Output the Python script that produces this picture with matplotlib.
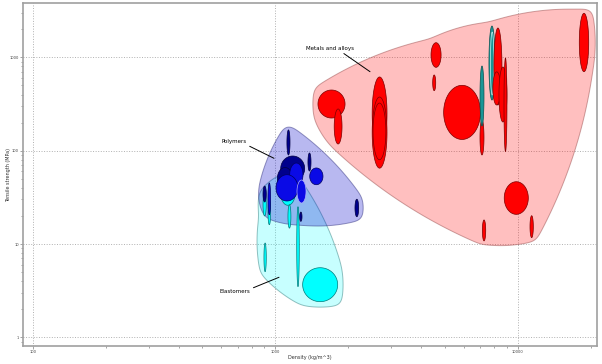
import numpy as np
import matplotlib.pyplot as plt

# material property ranges: density (kg/m^3) and tensile strength (MPa)
metal_d_lo = [1500, 1750, 2510, 2510, 2530, 4390, 4460, 4950, 6990, 6990, 7610, 7720, 7980, 7900, 8370, 8780, 17950, 8800, 7150, 11240]
metal_d_hi = [1940, 1885, 2890, 2890, 2860, 4830, 4590, 7020, 7260, 7260, 8060, 7980, 8610, 8500, 9030, 9030, 19630, 11060, 7380, 11600]
metal_s_lo = [224, 118, 102, 65, 80, 783, 440, 132, 90, 184, 349, 395, 309, 309, 203, 98, 703, 20.8, 10.8, 11.7]
metal_s_hi = [447, 280, 617, 376, 324, 1437, 648, 502, 213, 809, 2170, 1870, 2066, 700, 789, 985, 2970, 46.5, 18.1, 20.1]
metal_kind = ['red'] * 9 + ['teal', 'teal', 'teal_light'] + ['red'] * 8

poly_d_lo = [1053, 1117, 1364, 1020, 1147, 1007, 1229, 1387, 890, 933, 2132, 1261]
poly_d_hi = [1322, 1150, 1404, 1180, 1301, 1240, 1339, 1573, 918, 957, 2208, 1289]
poly_s_lo = [47.3, 90, 60.6, 38, 41.8, 28.9, 27.5, 43.2, 28.2, 20.6, 19.6, 17.5]
poly_s_hi = [87.7, 167, 94.5, 66, 73.8, 55.3, 48.5, 65.3, 41.8, 45.1, 30.2, 22]
poly_kind = ['navy', 'navy', 'navy', 'navy', 'blue', 'blue', 'blue_light', 'blue', 'navy', 'blue', 'navy', 'navy']

elast_d_lo = [1050, 890, 933, 1128, 1226, 898, 1297]
elast_d_hi = [1210, 918, 957, 1160, 1256, 918, 1809]
elast_s_lo = [26, 20, 16.1, 14.8, 3.49, 5.05, 2.41]
elast_s_hi = [50, 35, 30, 26.4, 25.1, 10.25, 5.57]

styles = {
    'red': ('#ff0000', '#7a0000'),
    'teal': ('#1a9696', '#0a5050'),
    'teal_light': ('#1a9696', '#c8f0f0'),
    'navy': ('#00008c', '#000040'),
    'blue': ('#0a0ae6', '#000060'),
    'blue_light': ('#0a0ae6', '#b0b0ff'),
    'cyan': ('#00ffff', '#007878'),
}

# label text position and pointer tip (density, strength)
labels = ['Metals and alloys', 'Polymers', 'Elastomers']
label_pos = [(1686, 1252), (679, 127), (684, 3.06)]
label_tip = [(2459, 703), (988, 82.9), (1036, 4.40)]
label_rel = [(0.7, 0), (0.88, 0), (0.95, 1)]

fig = plt.figure(figsize=(6.02, 3.64), dpi=100)
ax = fig.add_axes([22.7 / 602, (364 - 346) / 364, (597.3 - 22.7) / 602, (346 - 3.3) / 364])
ax.set_xscale('log')
ax.set_yscale('log')
ax.set_xlim(90.8, 21300)
ax.set_ylim(0.807, 3800)


def ellipse(dlo, dhi, slo, shi, n=90):
    cx, rx = (np.log10(dlo) + np.log10(dhi)) / 2, (np.log10(dhi) - np.log10(dlo)) / 2
    cy, ry = (np.log10(slo) + np.log10(shi)) / 2, (np.log10(shi) - np.log10(slo)) / 2
    t = np.linspace(0, 2 * np.pi, n)
    return 10 ** (cx + rx * np.cos(t)), 10 ** (cy + ry * np.sin(t))


def cross(o, a, b):
    return (a[0] - o[0]) * (b[1] - o[1]) - (a[1] - o[1]) * (b[0] - o[0])


def hull(pts):
    pts = [tuple(p) for p in np.unique(np.round(pts, 3), axis=0)]
    lower, upper = [], []
    for p in pts:
        while len(lower) >= 2 and cross(lower[-2], lower[-1], p) <= 0:
            lower.pop()
        lower.append(p)
    for p in reversed(pts):
        while len(upper) >= 2 and cross(upper[-2], upper[-1], p) <= 0:
            upper.pop()
        upper.append(p)
    return np.array(lower[:-1] + upper[:-1])


def smooth_closed(pts, sigma=5):
    closed = np.vstack([pts, pts[:1]])
    dist = np.r_[0, np.cumsum(np.hypot(*np.diff(closed, axis=0).T))]
    s = np.linspace(0, dist[-1], int(dist[-1]), endpoint=False)
    x = np.interp(s, dist, closed[:, 0])
    y = np.interp(s, dist, closed[:, 1])
    k = np.arange(-3 * sigma, 3 * sigma + 1)
    w = np.exp(-0.5 * (k / sigma) ** 2)
    w /= w.sum()
    m = 3 * sigma
    xs = np.convolve(np.r_[x[-m:], x, x[:m]], w, 'valid')
    ys = np.convolve(np.r_[y[-m:], y, y[:m]], w, 'valid')
    return np.c_[xs, ys]


def envelope(dlo, dhi, slo, shi, margin=4.0, bulge=0.045):
    corners = []
    for a, b, c, d in zip(dlo, dhi, slo, shi):
        corners += [(a, c), (a, d), (b, c), (b, d)]
    disp = ax.transData.transform(corners)
    ang = np.linspace(0, 2 * np.pi, 20, endpoint=False)
    ring = np.c_[np.cos(ang), np.sin(ang)] * margin
    pts = (disp[:, None, :] + ring[None, :, :]).reshape(-1, 2)
    h = hull(pts)
    out = []
    for i in range(len(h)):
        p, q = h[i], h[(i + 1) % len(h)]
        e = q - p
        L = np.hypot(*e)
        nrm = np.array([e[1], -e[0]]) / L
        t = np.linspace(0, 1, max(2, int(L / 2)), endpoint=False)
        out.append(p + t[:, None] * e + (4 * bulge * L * t * (1 - t))[:, None] * nrm)
    out = smooth_closed(np.vstack(out))
    return ax.transData.inverted().transform(out).T


# family envelopes
ex, ey = envelope(metal_d_lo, metal_d_hi, metal_s_lo, metal_s_hi)
ax.fill(ex, ey, facecolor=(1, 0, 0, 0.25), edgecolor=(0.6, 0.3, 0.3, 0.5), lw=0.7, zorder=2)
ex, ey = envelope(elast_d_lo, elast_d_hi, elast_s_lo, elast_s_hi)
ax.fill(ex, ey, facecolor=(0, 1, 1, 0.22), edgecolor=(0.2, 0.5, 0.5, 0.5), lw=0.7, zorder=2)
ex, ey = envelope(poly_d_lo, poly_d_hi, poly_s_lo, poly_s_hi)
ax.fill(ex, ey, facecolor=(0, 0, 0.8, 0.28), edgecolor=(0.2, 0.2, 0.5, 0.5), lw=0.7, zorder=2)

# material bubbles
groups = [
    (elast_d_lo, elast_d_hi, elast_s_lo, elast_s_hi, ['cyan'] * len(elast_d_lo)),
    (poly_d_lo, poly_d_hi, poly_s_lo, poly_s_hi, poly_kind),
    (metal_d_lo, metal_d_hi, metal_s_lo, metal_s_hi, metal_kind),
]
z = 3
for dlo, dhi, slo, shi, kinds in groups:
    for a, b, c, d, k in zip(dlo, dhi, slo, shi, kinds):
        x, y = ellipse(a, b, c, d)
        fc, ec = styles[k]
        ax.fill(x, y, facecolor=fc, edgecolor=ec, lw=0.5, zorder=z)
        z += 0.01

for text, pos, tip, rel in zip(labels, label_pos, label_tip, label_rel):
    ax.annotate(text, xy=tip, xytext=pos, fontsize=4, ha='center', va='center', zorder=10,
                arrowprops=dict(arrowstyle='-', color='black', lw=0.7, shrinkA=0, shrinkB=0, relpos=rel))

ax.set_xticks([100, 1000, 10000])
ax.set_xticklabels(['100', '1000', '10000'])
ax.set_yticks([1, 10, 100, 1000])
ax.set_yticklabels(['1', '10', '100', '1000'])
ax.xaxis.set_minor_formatter(plt.NullFormatter())
ax.yaxis.set_minor_formatter(plt.NullFormatter())
ax.tick_params(which='both', labelsize=2.6, labelcolor='#404040', color='#808080', width=0.5, pad=0.8)
ax.tick_params(which='major', length=2)
ax.tick_params(which='minor', length=1.5)
ax.grid(True, which='major', ls=':', color='#b0b0b0', lw=0.7)
ax.set_axisbelow(True)
for s in ax.spines.values():
    s.set_color('#a0a0a0')
    s.set_linewidth(1.2)

ax.set_xlabel('Density (kg/m^3)', fontsize=3.5, color='#303030')
ax.set_ylabel('Tensile strength (MPa)', fontsize=3.5, color='#303030')
ax.xaxis.set_label_coords(0.5, -0.025)
ax.yaxis.set_label_coords(-0.0204, 0.5)

fig.savefig('out.png', dpi=100, facecolor='white')
